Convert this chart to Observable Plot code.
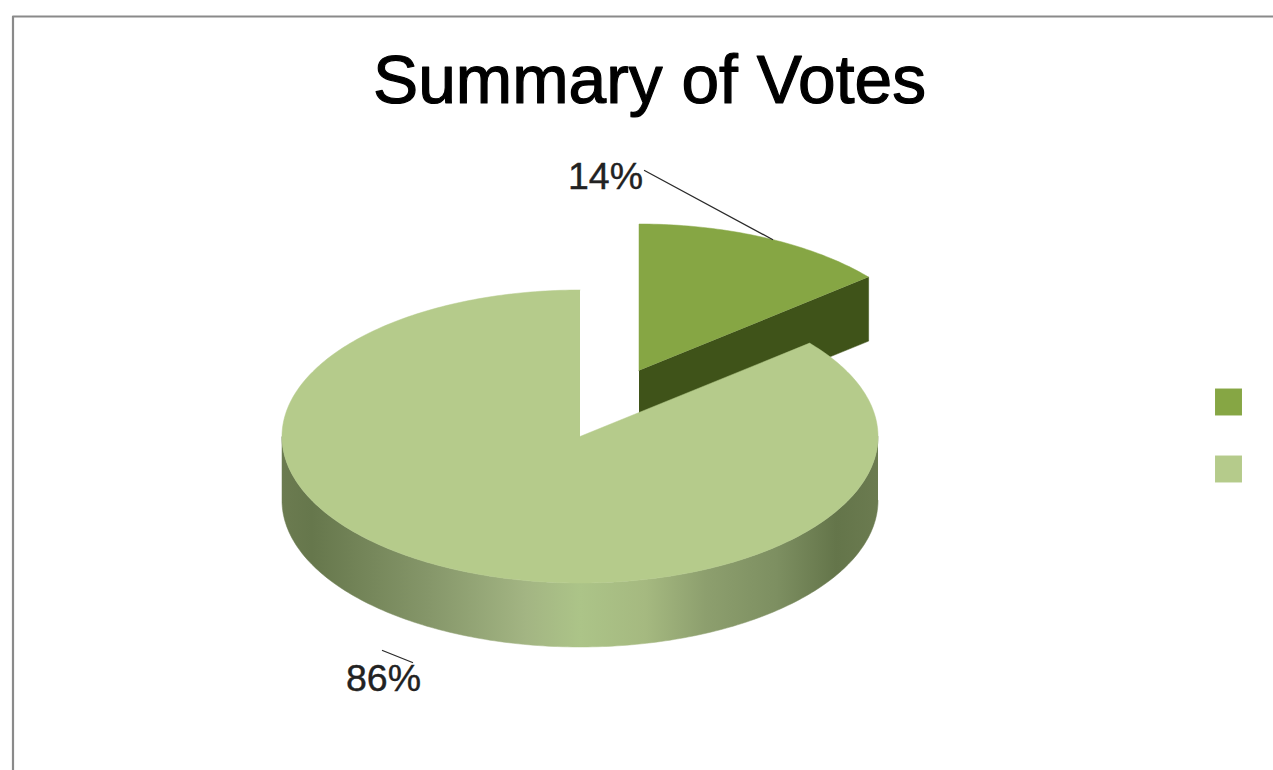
<!DOCTYPE html>
<html>
<head>
<meta charset="utf-8">
<style>html,body{margin:0;padding:0;background:#fff}svg{display:block}</style>
<script src="https://cdn.jsdelivr.net/npm/d3@7"></script>
<script src="https://cdn.jsdelivr.net/npm/@observablehq/plot@0.6"></script>
</head>
<body>
<div id="chart"></div>
<script>
const chartTitle = "Summary of Votes";
const shares = [14, 86];
const shareLabels = ["14%", "86%"];
const topColors = ["#86a644", "#b5cb8b"];
const wallColor = "#3f5319";
const rimStops = [0, .05, .25, .41, .5, .61, .71, .83, .93, 1];
const rimColors = ["#6b7b50", "#66774c", "#86976a", "#a3b583", "#acc488", "#a5b980", "#8d9f6e", "#7d8f61", "#64754a", "#6b7b50"];

// Projection of the tilted pie, in page units
const view = {width: 1273, height: 770};
const pie = {rx: 298, ry: 146.5, depth: 64};
const centers = [{x: 638.5, y: 370}, {x: 579.5, y: 436}];

const arcs = d3.pie().sort(null).value(d => d)(shares);
const at = (c, a, drop = 0) => ({x: c.x + pie.rx * Math.sin(a), y: c.y - pie.ry * Math.cos(a) + drop});
const sweep = (c, a0, a1, drop = 0) => {
  const n = Math.max(2, Math.ceil(Math.abs(a1 - a0) * 60));
  return d3.range(n + 1).map(i => at(c, a0 + (a1 - a0) * i / n, drop));
};

const [small, large] = arcs;
const smallTop = [centers[0], ...sweep(centers[0], small.startAngle, small.endAngle)];
const smallCut = [
  centers[0],
  at(centers[0], small.endAngle),
  at(centers[0], small.endAngle, pie.depth),
  {x: centers[0].x, y: centers[0].y + pie.depth}
];
const largeTop = [centers[1], ...sweep(centers[1], large.startAngle, large.endAngle)];
const largeRim = [
  ...sweep(centers[1], Math.PI / 2, 3 * Math.PI / 2),
  ...sweep(centers[1], 3 * Math.PI / 2, Math.PI / 2, pie.depth)
];

const face = (points, color) => Plot.line(points, {x: "x", y: "y", fill: color, stroke: color, strokeWidth: 0.5, curve: "linear"});
const leader = (points) => Plot.line(points, {x: "x", y: "y", stroke: "#2a2a2a", strokeWidth: 1.3});

const labelRows = [
  {text: shareLabels[0], x: 605, y: 188},
  {text: shareLabels[1], x: 383, y: 690}
];
const legendRows = shares.map((s, i) => ({x: 1228, y: 401.5 + 67 * i, color: topColors[i]}));

const gradient = () => {
  const defs = d3.create("svg:defs");
  const g = defs.append("linearGradient").attr("id", "rim").attr("x1", 0).attr("x2", 1).attr("y1", 0).attr("y2", 0);
  rimStops.forEach((s, i) => g.append("stop").attr("offset", s).attr("stop-color", rimColors[i]));
  return defs.node();
};

const chart = Plot.plot({
  width: view.width,
  height: view.height,
  margin: 0,
  style: {background: "#fff"},
  x: {domain: [0, view.width], range: [0, view.width], axis: null},
  y: {domain: [0, view.height], range: [0, view.height], axis: null},
  color: {type: "identity"},
  marks: [
    gradient,
    Plot.line([{x: 12.5, y: view.height}, {x: 12.5, y: 16}, {x: view.width, y: 16}], {x: "x", y: "y", stroke: "#8a8a8a", strokeWidth: 2.2}),
    face(smallCut, wallColor),
    face(smallTop, topColors[0]),
    face(largeRim, "url(#rim)"),
    face(largeTop, topColors[1]),
    leader([{x: 644, y: 170}, {x: 772, y: 239}]),
    leader([{x: 382, y: 650}, {x: 412, y: 662}]),
    Plot.text([chartTitle], {frameAnchor: "top-left", dx: 649, dy: 102, text: d => d, textAnchor: "middle", lineAnchor: "bottom", fontFamily: "Liberation Sans", fontSize: 67.7, fill: "#000", stroke: "#000", strokeWidth: 1.2}),
    Plot.text(labelRows, {x: "x", y: "y", text: "text", textAnchor: "middle", lineAnchor: "bottom", fontFamily: "Liberation Sans", fontSize: 37.5, fill: "#222", stroke: "#222", strokeWidth: 0.4}),
    Plot.dot(legendRows, {x: "x", y: "y", fill: "color", symbol: "square", r: 15.2, stroke: "none"})
  ]
});
document.getElementById("chart").append(chart);
</script>
</body>
</html>
